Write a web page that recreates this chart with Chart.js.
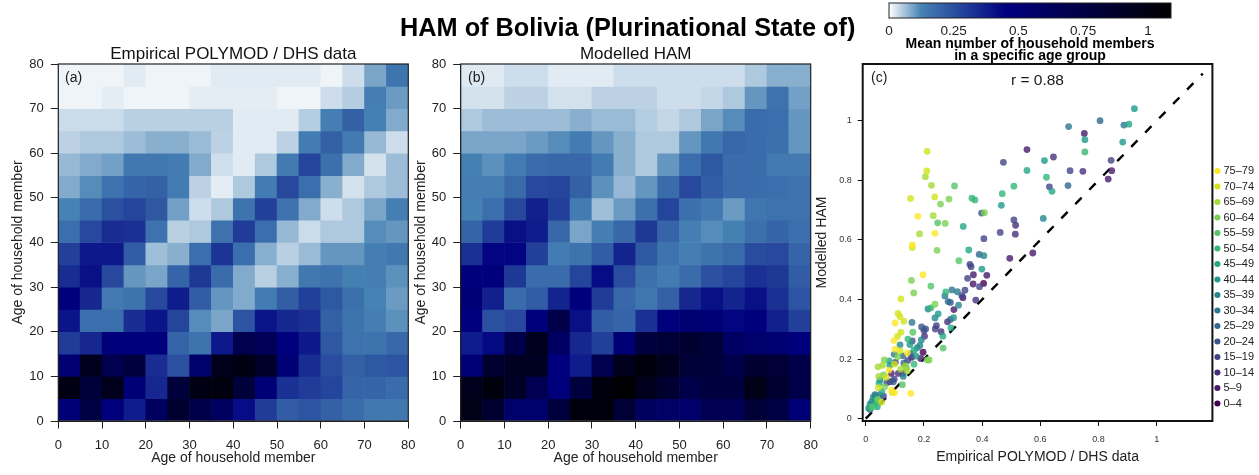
<!DOCTYPE html>
<html><head><meta charset="utf-8">
<script src="https://cdn.jsdelivr.net/npm/chart.js@4"></script>
<style>
html,body{margin:0;padding:0;background:#fff;width:1259px;height:475px;overflow:hidden}
canvas{position:absolute}
.t{position:absolute;font-family:"Liberation Sans",Arial,sans-serif;white-space:nowrap;color:#1a1a1a}
</style></head><body>
<canvas id="cbar" width="310" height="40" style="left:880px;top:0"></canvas>
<canvas id="pa" width="420" height="435" style="left:0;top:40px"></canvas>
<canvas id="pb" width="420" height="435" style="left:410px;top:40px"></canvas>
<canvas id="pc" width="454" height="435" style="left:810px;top:40px"></canvas>
<div class="t" style="left:400px;top:12px;font:bold 25.3px/30px 'Liberation Sans';color:#000">HAM of Bolivia (Plurinational State of)</div>
<div class="t" style="left:880px;width:300px;top:37px;text-align:center;font:bold 14px/12px 'Liberation Sans';color:#000">Mean number of household members<br>in a specific age group</div>
<div class="t" style="left:65px;top:69px;font-size:14px;line-height:16px">(a)</div>
<div class="t" style="left:468px;top:69px;font-size:14px;line-height:16px">(b)</div>
<div class="t" style="left:871px;top:69px;font-size:14px;line-height:16px">(c)</div>
<div class="t" style="left:1011px;top:71px;font-size:15.5px;line-height:18px">r = 0.88</div>
<script>
// rows run from age 75-80 (top) down to age 0-5 (bottom); columns from age 0-5 to 75-80
const rowStartsTopDown = [75,70,65,60,55,50,45,40,35,30,25,20,15,10,5,0];
const colStarts = [0,5,10,15,20,25,30,35,40,45,50,55,60,65,70,75];
const empiricalHam = [
[.011,.011,.011,.02,.011,.011,.011,.02,.02,.02,.02,.02,.011,.034,.09,.158],
[.011,.011,.018,.011,.011,.011,.018,.018,.018,.018,.011,.011,.034,.05,.135,.1],
[.036,.036,.036,.047,.047,.047,.047,.047,.02,.02,.02,.05,.135,.21,.13,.085],
[.045,.055,.055,.067,.08,.08,.068,.045,.02,.02,.045,.14,.21,.145,.07,.034],
[.07,.085,.095,.15,.15,.14,.085,.032,.02,.055,.145,.28,.17,.085,.03,.067],
[.085,.115,.165,.2,.21,.14,.045,.018,.055,.14,.27,.175,.08,.03,.055,.067],
[.125,.18,.25,.28,.23,.095,.034,.055,.16,.29,.165,.085,.034,.055,.09,.135],
[.175,.27,.34,.33,.165,.047,.055,.165,.3,.175,.07,.036,.055,.055,.115,.105],
[.29,.39,.39,.22,.065,.08,.175,.32,.175,.08,.047,.068,.105,.105,.135,.15],
[.34,.41,.27,.105,.09,.2,.31,.18,.085,.047,.08,.15,.16,.13,.135,.11],
[.47,.35,.145,.16,.27,.38,.22,.105,.085,.14,.215,.29,.23,.17,.125,.1],
[.4,.175,.175,.34,.4,.28,.115,.09,.24,.4,.35,.33,.21,.16,.135,.11],
[.3,.35,.48,.47,.47,.2,.16,.39,.7,.65,.47,.39,.23,.165,.16,.19],
[.52,.95,.7,.78,.34,.25,.55,.95,1,.88,.5,.34,.26,.21,.23,.24],
[1,.8,.95,.5,.35,.8,1,1.02,.8,.5,.33,.3,.28,.2,.2,.18],
[.5,.75,.47,.38,.62,.85,.72,.62,.42,.3,.22,.24,.21,.18,.15,.15]];
const modelledHam = [
[.022,.022,.034,.034,.02,.02,.02,.034,.034,.034,.034,.034,.034,.055,.08,.08],
[.03,.03,.045,.045,.03,.03,.045,.045,.045,.034,.034,.04,.055,.105,.165,.095],
[.055,.067,.067,.067,.067,.08,.068,.068,.05,.04,.055,.09,.115,.18,.175,.105],
[.09,.09,.09,.1,.115,.14,.105,.08,.055,.055,.105,.15,.195,.18,.17,.105],
[.13,.11,.14,.18,.19,.19,.14,.08,.055,.105,.175,.23,.18,.18,.145,.145],
[.135,.135,.185,.27,.28,.21,.11,.07,.105,.18,.27,.22,.18,.18,.175,.165],
[.13,.175,.27,.37,.29,.14,.065,.1,.17,.28,.17,.145,.1,.155,.165,.165],
[.2,.3,.41,.38,.195,.09,.135,.19,.31,.2,.135,.115,.13,.17,.2,.175],
[.33,.44,.44,.29,.14,.16,.22,.36,.23,.16,.135,.16,.185,.26,.27,.2],
[.47,.47,.31,.18,.18,.28,.42,.26,.17,.14,.18,.25,.28,.33,.31,.22],
[.5,.37,.18,.22,.36,.47,.3,.19,.155,.21,.35,.41,.36,.41,.33,.24],
[.46,.25,.27,.47,.72,.41,.22,.2,.33,.47,.52,.5,.44,.47,.37,.29],
[.38,.43,.72,.95,.6,.35,.29,.5,.78,.82,.85,.8,.6,.55,.52,.47],
[.5,.85,.92,.92,.46,.38,.7,.95,1.03,.95,.82,.8,.72,.85,.82,.72],
[.95,1.03,.9,.68,.47,.78,1.03,1.08,.95,.85,.72,.78,.78,.98,.85,.72],
[.98,.85,.56,.55,.78,1.03,1.03,.82,.62,.58,.56,.68,.66,.82,.75,.5]];
const ageGroups = ['0\u20134','5\u20139','10\u201314','15\u201319','20\u201324','25\u201329','30\u201334','35\u201339','40\u201344','45\u201349','50\u201354','55\u201359','60\u201364','65\u201369','70\u201374','75\u201379'];
const ageColors = ['#440154','#481A6C','#472F7D','#414487','#39568C','#31688E','#2A788E','#23888E','#1F988B','#22A884','#35B779','#54C568','#7AD151','#A5DB36','#D2E21B','#FDE725'];
// [empirical, modelled, age-group index]
const scatterPoints = [
[.211,.897,14],[.21,.831,14],[.205,.812,13],[.226,.783,13],[.305,.781,11],[.154,.739,14],[.237,.744,14],[.286,.737,12],[.257,.72,12],[.365,.74,10],[.375,.734,10],[.179,.679,15],[.232,.681,13],[.247,.657,11],[.273,.655,12],[.185,.62,13],[.238,.622,15],[.16,.583,15],[.16,.574,14],[.245,.565,12],[.32,.53,11],[.354,.566,9],[.335,.645,9],[.398,.69,4],[.408,.691,12],[.466,.716,8],[.469,.755,10],[.509,.78,10],[.554,.833,9],[.554,.903,1],[.473,.86,3],[.509,.667,3],[.515,.649,2],[.514,.619,2],[.462,.625,3],[.406,.604,3],[.39,.551,5],[.406,.547,7],[.358,.518,3],[.362,.51,3],[.399,.502,8],[.495,.538,1],[.574,.556,1],
[.197,.483,15],[.157,.464,12],[.224,.445,11],[.165,.422,12],[.121,.402,14],[.35,.471,3],[.37,.483,1],[.416,.481,1],[.369,.452,1],[.391,.443,3],[.405,.454,0],[.296,.432,6],[.315,.426,6],[.275,.425,10],[.272,.412,6],[.341,.431,3],[.33,.413,3],[.334,.406,1],[.378,.398,2],[.283,.393,5],[.291,.39,4],[.319,.381,7],[.303,.366,1],[.238,.384,12],[.224,.372,10],[.214,.368,7],[.249,.352,8],[.238,.338,7],[.111,.353,14],[.118,.342,14],[.131,.327,14],[.101,.321,15],[.159,.323,6],[.281,.325,2],[.291,.333,4],[.302,.339,8],[.293,.305,9],[.243,.312,3],[.239,.301,3],[.192,.308,4],[.206,.301,4],[.2,.296,3],[.202,.277,2],[.259,.292,2],[.265,.277,9],[.162,.29,11],[.121,.29,14],[.109,.276,14],[.145,.267,10],[.16,.261,4],[.191,.264,7],[.097,.262,15],[.118,.248,7],[.152,.249,8],[.186,.246,7],[.177,.238,7],[.266,.237,11],[.101,.233,15],[.118,.228,14],[.166,.23,9],[.197,.223,0],[.143,.221,15],[.154,.217,4],[.098,.216,6],[.11,.208,12],[.128,.211,5],[.173,.21,8],[.158,.206,1],[.189,.202,1],[.064,.197,12],[.081,.194,9],[.211,.197,12],[.218,.197,12],[.144,.195,3],[.102,.189,3],[.131,.186,5],[.166,.183,10],[.042,.174,13],[.058,.179,13],[.083,.179,8],[.099,.183,14],[.08,.163,15],[.137,.177,13],[.139,.172,9],[.12,.166,13],[.143,.161,13],[.088,.152,1],[.112,.152,2],[.128,.152,2],[.129,.142,7],[.045,.142,13],[.061,.147,12],[.07,.139,14],[.049,.13,7],[.098,.133,3],[.083,.124,2],[.072,.121,4],[.095,.124,4],[.126,.114,11],[.043,.104,14],[.065,.107,12],[.046,.119,9],[.055,.091,9],[.089,.096,15],[.091,.088,14],[.099,.087,15],[.155,.085,15],[.035,.076,7],[.049,.079,6],[.026,.072,7],[.041,.065,12],[.021,.057,7],[.032,.06,8],[.043,.057,10],[.015,.049,7],[.026,.044,10],[.021,.038,11],[.015,.031,4],[.01,.035,8],[.055,.055,14],[.04,.04,9],[.032,.081,5],[.061,.076,3],
[.923,1.04,8],[.805,1,5],[.697,.98,6],[.887,.985,6],[.904,.988,9],[.751,.957,1],[.753,.936,8],[.883,.928,8],[.753,.895,10],[.645,.878,2],[.614,.866,8],[.843,.867,3],[.702,.832,3],[.746,.83,2],[.845,.832,1],[.621,.81,10],[.833,.804,1],[.631,.778,3],[.695,.782,5],[.64,.763,9],[.61,.672,7]];
const identityLine = [0,1.158];
const heatTicks = [0,10,20,30,40,50,60,70,80];
const scatterTicks = [0,.2,.4,.6,.8,1];
const colorbarTicks = [0,.25,.5,.75,1];
const rampStops = [[0,'#ffffff'],[.125,'#4682b4'],[.45,'#000080'],[1.09,'#000000']];

const FONT = '"Liberation Sans", Arial, sans-serif';
const INK = '#222222';
function hex(c){return [1,3,5].map(i=>parseInt(c.substr(i,2),16));}
function colorFor(v){
  for(let i=1;i<rampStops.length;i++){
    if(v<=rampStops[i][0]){
      const [a,ca]=rampStops[i-1],[b,cb]=rampStops[i];
      const t=(v-a)/(b-a),A=hex(ca),B=hex(cb);
      return 'rgb('+A.map((x,k)=>Math.round(x+(B[k]-x)*t)).join(',')+')';
    }
  }
  return '#000';
}
const boxPlugin = w => ({id:'box',afterDatasetsDraw(ch){
  const a=ch.chartArea,c=ch.ctx;c.save();c.strokeStyle=w>1.5?'#111':INK;c.lineWidth=w;
  c.strokeRect(a.left,a.top,a.right-a.left,a.bottom-a.top);c.restore();}});
const fixed = (axis,size)=>function(s){
  if(axis==='y'){ s.width=size; s.paddingTop=0; s.paddingBottom=0; }
  else { s.height=size; s.paddingLeft=0; s.paddingRight=0; }
};
const setTicks = vals => s => { s.ticks = vals.map(v=>({value:v})); };
Chart.defaults.font.family = FONT;
Chart.defaults.animation = false;

function heatChart(id,matrix,title,leftW,padRight,yTitlePad){
  const datasets = matrix.map((row,r)=>({
    data: row.map((v,c)=>({x:colStarts[c]+2.5,y:[rowStartsTopDown[r],rowStartsTopDown[r]+5]})),
    backgroundColor: row.map(colorFor),
    borderWidth:0, grouped:false, barPercentage:1, categoryPercentage:1
  }));
  const ax = (titleText,pad,tp,bp)=>({
    type:'linear',min:0,max:80,offset:false,
    afterBuildTicks:setTicks(heatTicks),
    ticks:{color:INK,font:{size:13},padding:pad,autoSkip:false,maxRotation:0,callback:v=>String(v)},
    grid:{drawOnChartArea:false,offset:false,tickLength:7.5,tickColor:INK,lineWidth:1},
    border:{color:INK,width:1},
    title:{display:true,text:titleText,color:INK,font:{size:14},padding:{top:tp,bottom:bp}}
  });
  new Chart(document.getElementById(id),{type:'bar',data:{datasets},
    options:{responsive:false,
      layout:{autoPadding:false,padding:{left:0,right:padRight,top:0,bottom:0}},
      scales:{
        x:Object.assign(ax('Age of household member',9,0,8),{afterFit:fixed('x',54)}),
        y:Object.assign(ax('Age of household member',7,yTitlePad,0),{afterFit:fixed('y',leftW)})
      },
      plugins:{legend:{display:false},tooltip:{enabled:false},
        title:{display:true,text:title,color:'#111',fullSize:false,font:{size:17,weight:'normal',lineHeight:1.1},padding:{top:5,bottom:.3}}}
    },plugins:[boxPlugin(1.2)]});
}
heatChart('pa',empiricalHam,'Empirical POLYMOD / DHS data',58.3,11.7,10);
heatChart('pb',modelledHam,'Modelled HAM',50.7,19.3,3);

const scatterSets = ageGroups.map((g,i)=>({
  type:'scatter',label:g,order:16-i,
  data:scatterPoints.filter(p=>p[2]===i).map(p=>({x:p[0],y:p[1]})),
  pointBackgroundColor:ageColors[i]+'CC',pointBorderWidth:0,pointRadius:3.4,pointStyle:'circle'
}));
scatterSets.push({type:'line',label:'identity',order:100,
  data:identityLine.map(v=>({x:v,y:v})),borderColor:'#000',borderWidth:2.4,borderDash:[9,11],
  pointRadius:0,fill:false});
new Chart(document.getElementById('pc'),{type:'scatter',data:{datasets:scatterSets},
  options:{responsive:false,
    layout:{autoPadding:false,padding:{left:0,right:0,top:24,bottom:0}},
    scales:{
      x:{type:'linear',min:-0.0103,max:1.191,afterBuildTicks:setTicks(scatterTicks),afterFit:fixed('x',54),
        ticks:{color:'#333',font:{size:9},padding:8,autoSkip:false,maxRotation:0,callback:v=>String(v)},
        grid:{drawOnChartArea:false,tickLength:5,tickColor:'#111'},border:{color:'#111',width:1},
        title:{display:true,text:'Empirical POLYMOD / DHS data',color:INK,font:{size:14},padding:{top:4,bottom:9}}},
      y:{type:'linear',min:-0.0077,max:1.19,afterBuildTicks:setTicks(scatterTicks),afterFit:fixed('y',52.7),
        ticks:{color:'#333',font:{size:9},padding:6,autoSkip:false,maxRotation:0,callback:v=>String(v)},
        grid:{drawOnChartArea:false,tickLength:5,tickColor:'#111'},border:{color:'#111',width:1},
        title:{display:true,text:'Modelled HAM',color:INK,font:{size:14},padding:{top:4,bottom:4}}}
    },
    plugins:{tooltip:{enabled:false},
      legend:{display:true,position:'right',align:'end',
        labels:{boxWidth:1,boxHeight:4.3,padding:4.5,usePointStyle:true,pointStyle:'circle',color:INK,font:{size:11},
          generateLabels:()=>ageGroups.map((g,i)=>({text:g,fillStyle:ageColors[i],strokeStyle:ageColors[i],lineWidth:0,pointStyle:'circle',fontColor:INK,datasetIndex:i})).reverse()}}}
  },plugins:[boxPlugin(2),{id:'legendShift',afterLayout(ch){ch.legend.bottom=ch.chartArea.bottom-7.5;}}]});

new Chart(document.getElementById('cbar'),{type:'bar',
  data:{labels:['ramp'],datasets:[{data:[[0,1.089]],barPercentage:1,categoryPercentage:1,borderWidth:0,inflateAmount:0,
    backgroundColor(ctx){
      const s=ctx.chart.scales.x; if(!s||!ctx.chart.chartArea) return '#000';
      const g=ctx.chart.ctx.createLinearGradient(s.left,0,s.right,0);
      rampStops.forEach(([v,c])=>g.addColorStop(Math.min(1,v/1.089),c));
      return g;
    }}]},
  options:{indexAxis:'y',responsive:false,
    layout:{autoPadding:false,padding:{left:9,right:19,top:3,bottom:0}},
    scales:{
      x:{type:'linear',min:0,max:1.089,afterBuildTicks:setTicks(colorbarTicks),afterFit:fixed('x',22),
        ticks:{color:INK,font:{size:13.5},padding:5,autoSkip:false,maxRotation:0,callback:v=>String(v)},
        grid:{display:false,drawTicks:false},border:{display:false}},
      y:{display:false}
    },
    plugins:{legend:{display:false},tooltip:{enabled:false}}
  },plugins:[boxPlugin(1)]});
</script>
</body></html>
